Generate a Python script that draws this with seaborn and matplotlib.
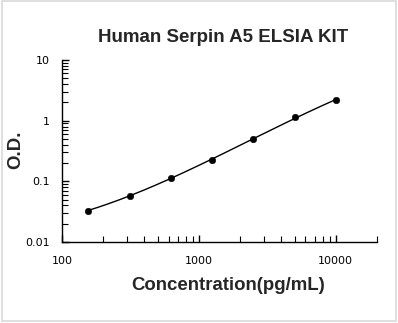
import numpy as np
import pandas as pd
import matplotlib
matplotlib.use("Agg")
import matplotlib.pyplot as plt
import seaborn as sns
from matplotlib.ticker import LogLocator, FixedLocator, NullFormatter

# Données de la courbe standard
concentration = [156, 312, 625, 1250, 2500, 5000, 10000]
od = [0.033, 0.058, 0.115, 0.227, 0.49, 1.14, 2.19]
x_ticks = [100, 1000, 10000]
x_tick_labels = ["100", "1000", "10000"]
y_ticks = [0.01, 0.1, 1, 10]
y_tick_labels = ["0.01", "0.1", "1", "10"]

df = pd.DataFrame({"conc": concentration, "od": od})

# Ajustement lisse en log-log (polynôme de degré 3)
lx, ly = np.log10(df["conc"]), np.log10(df["od"])
coef = np.polyfit(lx, ly, 3)
xs = np.linspace(lx.min(), lx.max(), 200)
fit = pd.DataFrame({"conc": 10 ** xs, "od": 10 ** np.polyval(coef, xs)})

sns.set_style("ticks")
plt.rcParams["font.family"] = ["DejaVu Sans"]

fig = plt.figure(figsize=(3.98, 3.23), dpi=100)
ax = fig.add_axes([62 / 398, 1 - 242 / 323, (377 - 62) / 398, (242 - 60) / 323])

sns.lineplot(data=fit, x="conc", y="od", ax=ax, color="black", linewidth=1)
sns.scatterplot(data=df, x="conc", y="od", ax=ax, color="black", s=22,
                edgecolor="black", zorder=3)

ax.set_xscale("log")
ax.set_yscale("log")
ax.set_xlim(100, 20000)
ax.set_ylim(0.01, 10)

ax.xaxis.set_major_locator(FixedLocator(x_ticks))
ax.set_xticklabels(x_tick_labels)
ax.yaxis.set_major_locator(FixedLocator(y_ticks))
ax.set_yticklabels(y_tick_labels)
ax.xaxis.set_minor_locator(LogLocator(base=10, subs=np.arange(2, 10), numticks=20))
ax.yaxis.set_minor_locator(LogLocator(base=10, subs=np.arange(2, 10), numticks=20))
ax.xaxis.set_minor_formatter(NullFormatter())
ax.yaxis.set_minor_formatter(NullFormatter())

ax.tick_params(which="both", direction="in", colors="black", labelsize=8)
ax.tick_params(which="major", length=5, width=1)
ax.tick_params(which="minor", length=4, width=0.8)
ax.tick_params(axis="x", pad=10)
ax.tick_params(axis="y", pad=9)

sns.despine(ax=ax)
for s in ["left", "bottom"]:
    ax.spines[s].set_linewidth(1)
    ax.spines[s].set_color("black")

ax.set_xlabel("")
ax.set_ylabel("")
fig.text(228 / 398, 1 - 285 / 323, "Concentration(pg/mL)", ha="center", va="center",
         fontsize=13.4, fontweight="bold", family=["Liberation Sans"])
fig.text(16 / 398, 1 - 150 / 323, "O.D.", ha="center", va="center", rotation=90,
         fontsize=13.4, fontweight="bold", family=["Liberation Sans"])
fig.text(223.5 / 398, 1 - 38 / 323, "Human Serpin A5 ELSIA KIT", ha="center", va="center",
         fontsize=13.5, fontweight="bold", family=["Liberation Sans"])

# Cadre gris autour de la figure
fig.patches.append(plt.Rectangle((0.004, 0.006), 0.99, 0.99, transform=fig.transFigure,
                                 fill=False, edgecolor="#d9d9d9", linewidth=1.2))

fig.savefig("out.png", dpi=100)
plt.close(fig)
